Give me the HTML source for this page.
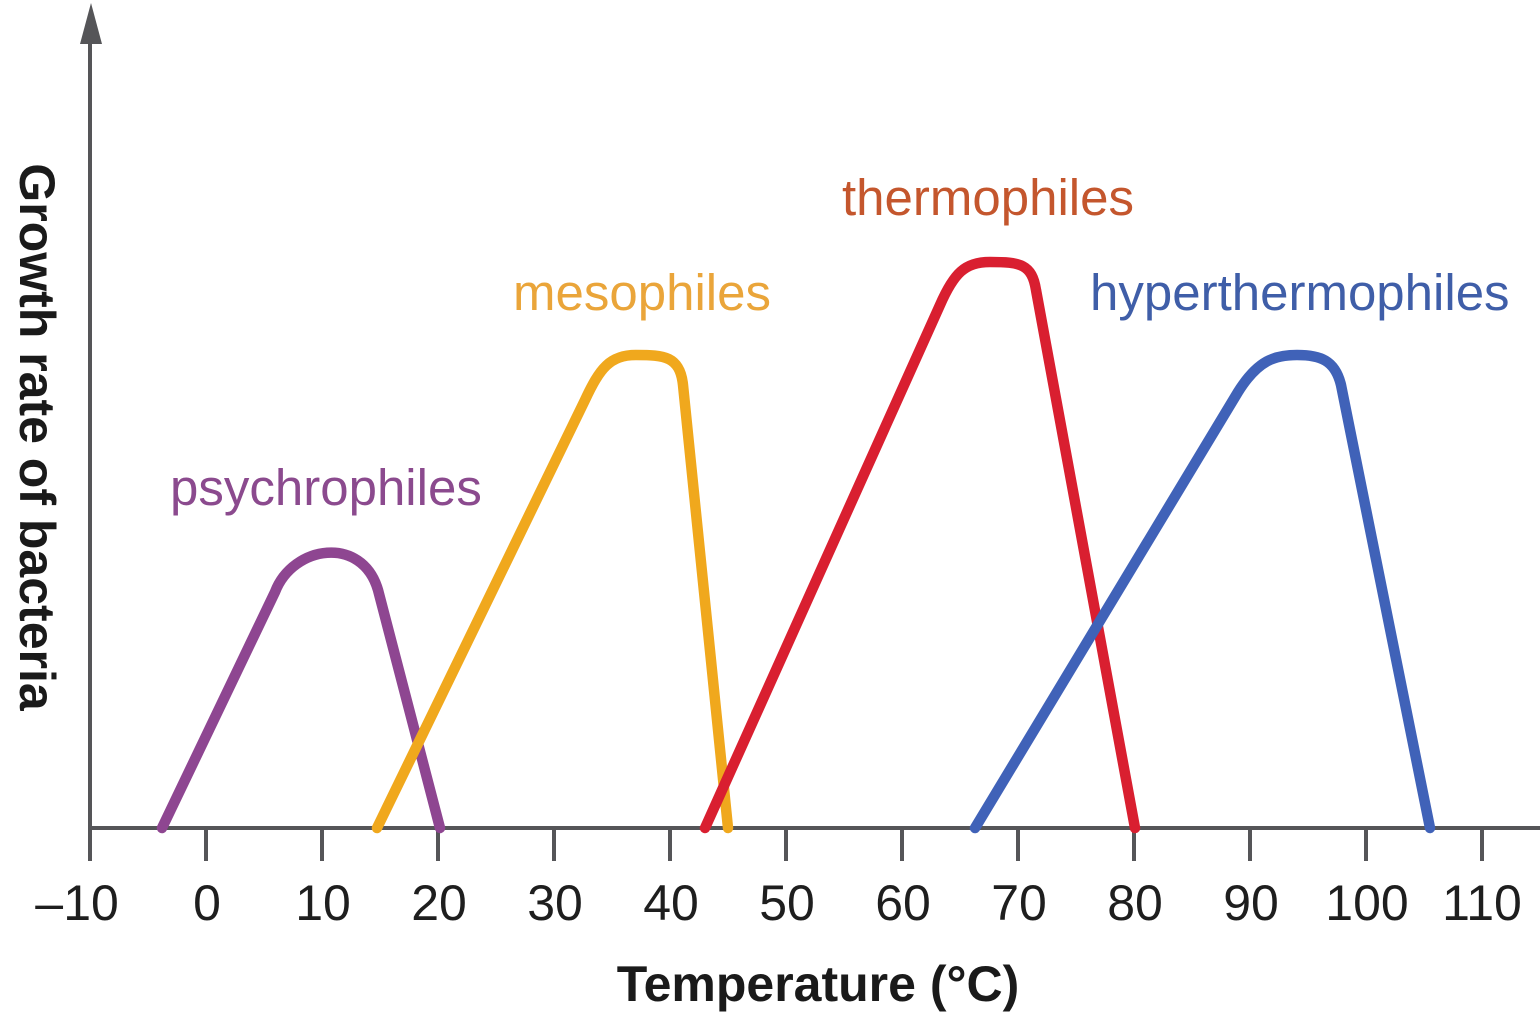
<!DOCTYPE html>
<html>
<head>
<meta charset="utf-8">
<style>
  html,body{margin:0;padding:0;background:#fff;}
  svg{display:block;}
</style>
</head>
<body>
<svg width="1540" height="1016" viewBox="0 0 1540 1016" xmlns="http://www.w3.org/2000/svg">
  <rect width="1540" height="1016" fill="#ffffff"/>
  <!-- axes -->
  <g stroke="#555558" stroke-width="4" fill="none">
    <line x1="90" y1="40" x2="90" y2="830"/>
    <line x1="88" y1="828" x2="1540" y2="828"/>
    <line x1="90" y1="828" x2="90" y2="861"/>
    <line x1="206" y1="828" x2="206" y2="861"/>
    <line x1="322" y1="828" x2="322" y2="861"/>
    <line x1="438" y1="828" x2="438" y2="861"/>
    <line x1="554" y1="828" x2="554" y2="861"/>
    <line x1="670" y1="828" x2="670" y2="861"/>
    <line x1="786" y1="828" x2="786" y2="861"/>
    <line x1="902" y1="828" x2="902" y2="861"/>
    <line x1="1018" y1="828" x2="1018" y2="861"/>
    <line x1="1134" y1="828" x2="1134" y2="861"/>
    <line x1="1250" y1="828" x2="1250" y2="861"/>
    <line x1="1366" y1="828" x2="1366" y2="861"/>
    <line x1="1482" y1="828" x2="1482" y2="861"/>
  </g>
  <polygon points="91,3 80,44 102,44" fill="#555558"/>

  <!-- tick labels -->
  <g font-family="Liberation Sans, Arial, sans-serif" font-size="50" fill="#1e1e1e" text-anchor="middle">
    <text x="63" y="920" text-anchor="end">–</text>
    <text x="91" y="920">10</text>
    <text x="207" y="920">0</text>
    <text x="323" y="920">10</text>
    <text x="439" y="920">20</text>
    <text x="555" y="920">30</text>
    <text x="671" y="920">40</text>
    <text x="787" y="920">50</text>
    <text x="903" y="920">60</text>
    <text x="1019" y="920">70</text>
    <text x="1135" y="920">80</text>
    <text x="1251" y="920">90</text>
    <text x="1367" y="920">100</text>
    <text x="1482" y="920">110</text>
  </g>

  <!-- axis titles -->
  <text x="818" y="1001" text-anchor="middle" font-family="Liberation Sans, Arial, sans-serif" font-weight="bold" font-size="50" fill="#1a1a1a">Temperature (°C)</text>
  <text transform="translate(20,437) rotate(90)" text-anchor="middle" font-family="Liberation Sans, Arial, sans-serif" font-weight="bold" font-size="50" fill="#1a1a1a">Growth rate of bacteria</text>

  <!-- curves -->
  <g fill="none" stroke-width="10.5" stroke-linecap="round" stroke-linejoin="round">
    <path d="M162,828 L275,592 C293,545 362,535 378,590 L440,828" stroke="#8e4691"/>
    <path d="M377,828 L585,400 C600,368 610,355 636,355 C664,355 680,356 683,385 L728,828" stroke="#f0a81d"/>
    <path d="M705,828 L940,305 C954,273 965,262 990,262 C1020,262 1032,264 1036,290 L1135,828" stroke="#d91f30"/>
    <path d="M975,828 L1238,392 C1258,360 1275,355 1297,355 C1320,355 1335,360 1341,385 L1430,828" stroke="#4062b8"/>
  </g>

  <!-- series labels -->
  <g font-family="Liberation Sans, Arial, sans-serif" font-size="51">
    <text x="170" y="505" fill="#8b4a8e">psychrophiles</text>
    <text x="513" y="310" fill="#eaa53a">mesophiles</text>
    <text x="842" y="215" fill="#c4562d">thermophiles</text>
    <text x="1090" y="310" fill="#3f5ea8">hyperthermophiles</text>
  </g>
</svg>
</body>
</html>
